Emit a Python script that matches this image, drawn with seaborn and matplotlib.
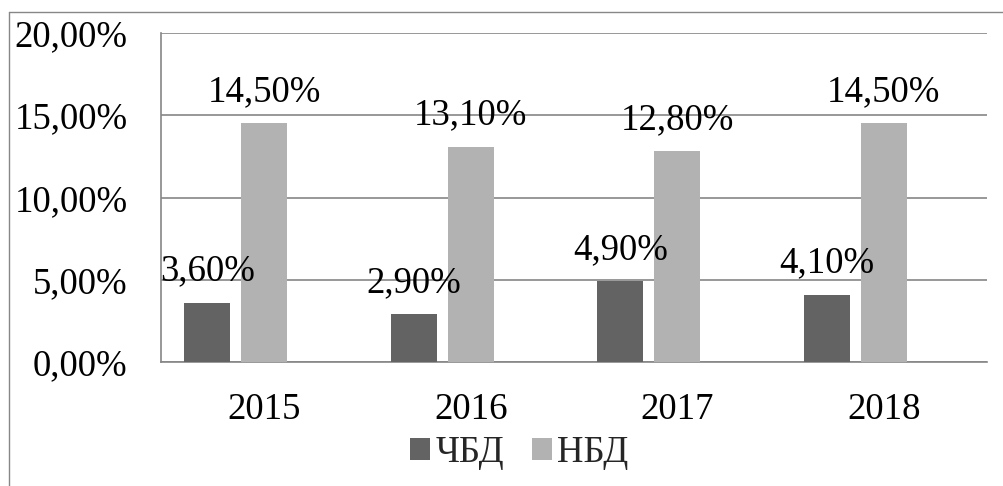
import pandas as pd
import matplotlib.pyplot as plt
from matplotlib.lines import Line2D
from matplotlib.patches import Patch
from matplotlib.ticker import FuncFormatter
import seaborn as sns

# --- Data ---
years = ['2015', '2016', '2017', '2018']
chbd = [0.036, 0.029, 0.049, 0.041]   # ЧБД
nbd = [0.145, 0.131, 0.128, 0.145]    # НБД
series_names = ['ЧБД', 'НБД']
colors = {'ЧБД': '#636363', 'НБД': '#b2b2b2', ' ': '#ffffff'}

df = pd.DataFrame({
    'year': years * 2,
    'value': chbd + nbd,
    'series': [series_names[0]] * 4 + [series_names[1]] * 4,
})

sns.set_theme(style="white")
plt.rcParams['font.family'] = ['Liberation Serif', 'DejaVu Serif']
FS = 26.5
grid_color = '#868686'

fig = plt.figure(figsize=(10.04, 4.86), dpi=100)
ax = fig.add_axes([161 / 1004, 1 - 362 / 486, (987 - 161) / 1004, (362 - 33) / 486])

# third (empty) hue level keeps the Excel-like slot on the right of each group
sns.barplot(data=df, x='year', y='value', hue='series',
            hue_order=['ЧБД', 'НБД', ' '], palette=colors,
            width=0.828, gap=0.19, linewidth=0, legend=False, ax=ax, zorder=3)

ax.set_ylim(0, 0.2)
ax.set_yticks([0, 0.05, 0.10, 0.15, 0.20])
ax.yaxis.set_major_formatter(FuncFormatter(lambda v, p: f"{v * 100:.2f}%".replace('.', ',')))
ax.grid(axis='y', color=grid_color, linewidth=1.2, zorder=0)
ax.grid(axis='x', visible=False)
ax.set_axisbelow(True)
for side in ['top', 'right']:
    ax.spines[side].set_visible(False)
for side in ['left', 'bottom']:
    ax.spines[side].set_color(grid_color)
    ax.spines[side].set_linewidth(1.2)
ax.tick_params(axis='y', length=0, pad=24, labelsize=FS, labelcolor='black')
ax.tick_params(axis='x', length=0, pad=22, labelsize=FS, labelcolor='black')
ax.set_xlabel('')
ax.set_ylabel('')

# data labels above bars
for cont in ax.containers:
    for bar in cont:
        h = bar.get_height()
        if h <= 0:
            continue
        ax.annotate(f"{h * 100:.2f}%".replace('.', ','),
                    xy=(bar.get_x() + bar.get_width() / 2, h),
                    xytext=(0, 16), textcoords='offset points',
                    ha='center', va='baseline', fontsize=FS, color='black', zorder=5)

# legend at the bottom
handles = [Patch(facecolor=colors[n], edgecolor='none', label=n) for n in series_names]
fig.legend(handles=handles, loc='center', bbox_to_anchor=(0.517, 0.068), ncol=2,
           frameon=False, fontsize=FS, handlelength=0.55, handleheight=0.55,
           handletextpad=0.15, columnspacing=0.75, borderpad=0)

# outer chart frame (only left and top edges fall inside the image)
fx = 9 / 1004
fy = 1 - 12 / 486
fig.add_artist(Line2D([fx, fx], [0, fy], color='#878787', linewidth=1.0, transform=fig.transFigure))
fig.add_artist(Line2D([fx, 1], [fy, fy], color='#878787', linewidth=1.0, transform=fig.transFigure))

fig.savefig('out.png', dpi=100)
